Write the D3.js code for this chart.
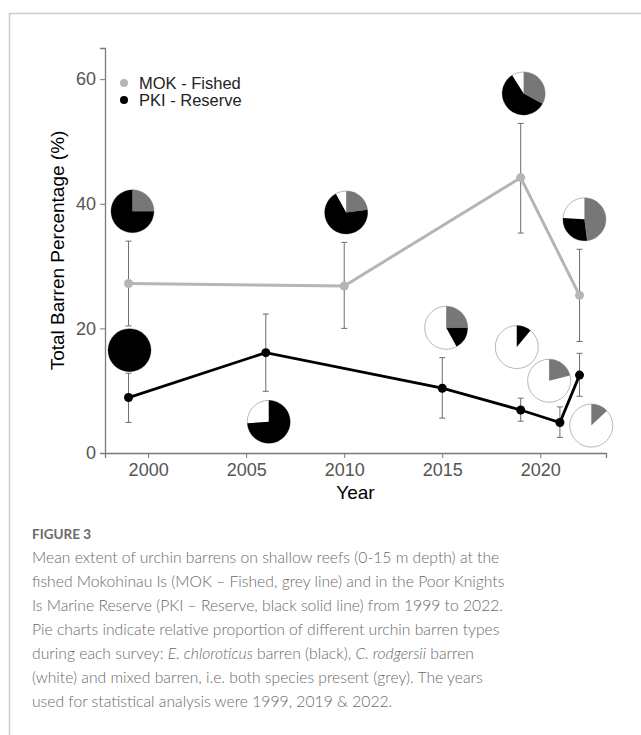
<!DOCTYPE html>
<html>
<head>
<meta charset="utf-8">
<script src="https://cdn.jsdelivr.net/npm/d3@7"></script>
<style>
  body { margin: 0; background: #fff; }
  svg { display: block; }
</style>
</head>
<body>
<svg id="drawing_region"></svg>
<script>
// MOK - Fished (grey line)
const mokYears = [1999, 2010, 2019, 2022];
const mokMean  = [27.2, 26.8, 44.2, 25.3];
const mokLow   = [20.4, 20.0, 35.3, 17.9];
const mokHigh  = [34.0, 33.8, 52.9, 32.7];

// PKI - Reserve (black line)
const pkiYears = [1999, 2006, 2015, 2019, 2021, 2022];
const pkiMean  = [8.9, 16.1, 10.4, 6.9, 4.9, 12.5];
const pkiLow   = [4.9, 9.9, 5.6, 5.1, 2.5, 9.1];
const pkiHigh  = [12.8, 22.3, 15.3, 8.8, 7.4, 16.0];

// pies: placement in data units, then proportions (mixed, E. chloroticus, C. rodgersii)
const pieYear  = [1999.2, 1999.05, 2006.15, 2010.1, 2019.15, 2022.25, 2015.2, 2018.8, 2020.45, 2022.6];
const pieValue = [38.8, 16.5, 5.0, 38.6, 57.7, 37.5, 20.1, 17.0, 11.6, 4.4];
const pieMixed = [25, 0, 0, 23, 33, 48, 25, 0, 21, 13];
const pieEchlo = [75, 100, 74, 69, 58, 28, 17, 11, 0, 0];
const pieCrodg = [0, 0, 26, 8, 9, 24, 58, 89, 79, 87];

const yTicks = [0, 20, 40, 60];
const xTicks = [2000, 2005, 2010, 2015, 2020];

const legendLabels = ["MOK - Fished", "PKI - Reserve"];

const config = {
    width: 641,
    height: 735,
    margin: {top: 48, right: 35, bottom: 282, left: 105}
};

const svg = d3.select('#drawing_region')
    .attr('width', config.width)
    .attr('height', config.height);

// page frame
svg.append('path')
    .attr('d', `M9.5,${config.height} V13.5 H${config.width}`)
    .attr('fill', 'none')
    .attr('stroke', '#cccccc')
    .attr('stroke-width', 1.5);

const inner_width = config.width - config.margin.left - config.margin.right;
const inner_height = config.height - config.margin.top - config.margin.bottom;

const chart = svg.append('g')
    .attr('transform', `translate(${config.margin.left}, ${config.margin.top})`);

const xscale = d3.scaleLinear()
    .domain([1997.8, 2023.35])
    .range([0, inner_width]);

const yscale = d3.scaleLinear()
    .domain([0, 65])
    .range([inner_height, 0]);

// axes
const xaxis = d3.axisBottom(xscale).tickValues(xTicks).tickFormat(d3.format('d')).tickSizeOuter(0).tickSize(5).tickPadding(5);
const yaxis = d3.axisLeft(yscale).tickValues(yTicks).tickSizeOuter(0).tickSize(5).tickPadding(4);

const xg = chart.append('g')
    .attr('transform', `translate(0, ${inner_height})`)
    .call(xaxis);
const yg = chart.append('g').call(yaxis);

[xg, yg].forEach(g => {
    g.select('.domain').attr('stroke', '#7a7a7a').attr('stroke-width', 1.3);
    g.selectAll('.tick line').attr('stroke', '#7a7a7a');
    g.selectAll('.tick text')
        .attr('fill', '#555')
        .style('font-family', 'Liberation Sans, Arial, sans-serif')
        .style('font-size', '18px');
});

// axis labels
svg.append('text')
    .attr('x', config.margin.left + inner_width / 2)
    .attr('y', 499)
    .attr('text-anchor', 'middle')
    .style('font-family', 'Liberation Sans, Arial, sans-serif')
    .style('font-size', '19px')
    .text('Year');

svg.append('text')
    .attr('transform', `translate(64, ${config.margin.top + inner_height / 2}) rotate(-90)`)
    .attr('text-anchor', 'middle')
    .style('font-family', 'Liberation Sans, Arial, sans-serif')
    .style('font-size', '19px')
    .text('Total Barren Percentage (%)');

// error bars
function errorBars(years, low, high) {
    const g = chart.append('g').attr('stroke', '#6e6e6e').attr('stroke-width', 1);
    years.forEach((yr, i) => {
        const x = xscale(yr);
        g.append('line').attr('x1', x).attr('x2', x).attr('y1', yscale(low[i])).attr('y2', yscale(high[i]));
        g.append('line').attr('x1', x - 3).attr('x2', x + 3).attr('y1', yscale(low[i])).attr('y2', yscale(low[i]));
        g.append('line').attr('x1', x - 3).attr('x2', x + 3).attr('y1', yscale(high[i])).attr('y2', yscale(high[i]));
    });
}
errorBars(mokYears, mokLow, mokHigh);
errorBars(pkiYears, pkiLow, pkiHigh);

// lines
const line = d3.line().x(d => xscale(d[0])).y(d => yscale(d[1]));

chart.append('path')
    .datum(d3.zip(mokYears, mokMean))
    .attr('d', line)
    .attr('fill', 'none')
    .attr('stroke', '#b5b5b5')
    .attr('stroke-width', 3);

chart.selectAll('circle.mok')
    .data(d3.zip(mokYears, mokMean))
    .enter().append('circle')
    .attr('class', 'mok')
    .attr('cx', d => xscale(d[0]))
    .attr('cy', d => yscale(d[1]))
    .attr('r', 4.5)
    .attr('fill', '#b5b5b5');

chart.append('path')
    .datum(d3.zip(pkiYears, pkiMean))
    .attr('d', line)
    .attr('fill', 'none')
    .attr('stroke', '#000')
    .attr('stroke-width', 2.8);

chart.selectAll('circle.pki')
    .data(d3.zip(pkiYears, pkiMean))
    .enter().append('circle')
    .attr('class', 'pki')
    .attr('cx', d => xscale(d[0]))
    .attr('cy', d => yscale(d[1]))
    .attr('r', 4.5)
    .attr('fill', '#000');

// pies
const pieColors = ['#777777', '#000000', '#ffffff'];
const pie = d3.pie().sort(null).value(d => d);
const arc = d3.arc().innerRadius(0).outerRadius(21.5);

pieYear.forEach((yr, i) => {
    const g = chart.append('g')
        .attr('transform', `translate(${xscale(yr)}, ${yscale(pieValue[i])})`);
    g.append('circle').attr('r', 21.5).attr('fill', '#fff').attr('stroke', '#b8b8b8').attr('stroke-width', 1);
    g.selectAll('path')
        .data(pie([pieMixed[i], pieEchlo[i], pieCrodg[i]]))
        .enter().append('path')
        .filter(d => d.data > 0 && d.index < 2)
        .attr('d', arc)
        .attr('fill', d => pieColors[d.index]);
});

// legend
const legend = svg.append('g')
    .style('font-family', 'Liberation Sans, Arial, sans-serif')
    .style('font-size', '16.5px');
legendLabels.forEach((label, i) => {
    legend.append('circle')
        .attr('cx', 124)
        .attr('cy', 83 + i * 17)
        .attr('r', 4)
        .attr('fill', i === 0 ? '#b5b5b5' : '#000');
    legend.append('text')
        .attr('x', 139)
        .attr('y', 83 + i * 17)
        .attr('dy', '0.35em')
        .attr('fill', '#222')
        .text(label);
});

// caption
const capFont = 'Lato, "Open Sans", sans-serif';
svg.append('text')
    .attr('x', 32)
    .attr('y', 539)
    .attr('fill', '#6a6a6a')
    .style('font-family', capFont)
    .style('font-size', '13.5px')
    .style('font-weight', 'bold')
    .text('FIGURE 3');

const captionLines = [
    [['Mean extent of urchin barrens on shallow reefs (0-15 m depth) at the', false]],
    [['fished Mokohinau Is (MOK \u2013 Fished, grey line) and in the Poor Knights', false]],
    [['Is Marine Reserve (PKI \u2013 Reserve, black solid line) from 1999 to 2022.', false]],
    [['Pie charts indicate relative proportion of different urchin barren types', false]],
    [['during each survey: ', false], ['E. chloroticus', true], [' barren (black), ', false], ['C. rodgersii', true], [' barren', false]],
    [['(white) and mixed barren, i.e. both species present (grey). The years', false]],
    [['used for statistical analysis were 1999, 2019 & 2022.', false]]
];

const cap = svg.append('text')
    .attr('fill', '#6a6a6a')
    .style('font-family', capFont)
    .style('font-size', '15.7px')
    .style('font-weight', 300);
captionLines.forEach((parts, i) => {
    parts.forEach((p, j) => {
        const t = cap.append('tspan').text(p[0]).style('font-style', p[1] ? 'italic' : 'normal');
        if (j === 0) t.attr('x', 32).attr('y', 563 + i * 24);
    });
});
</script>
</body>
</html>
